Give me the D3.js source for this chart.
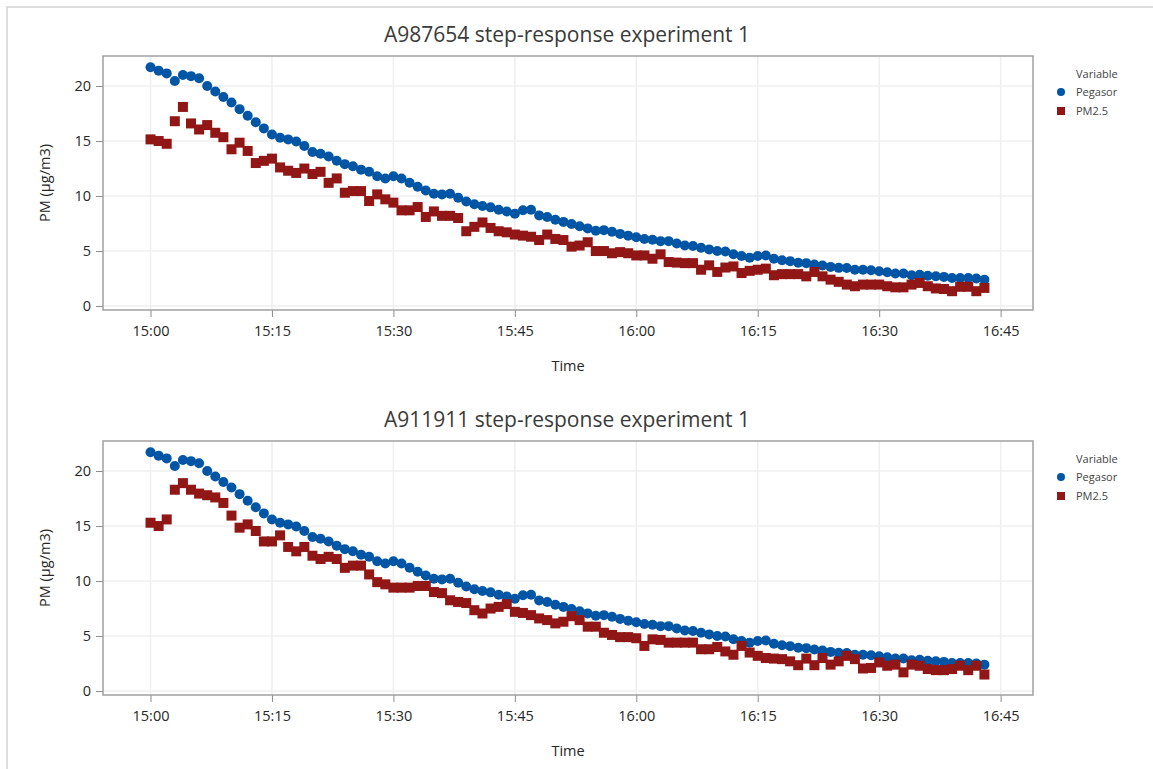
<!DOCTYPE html>
<html>
<head>
<meta charset="utf-8">
<script src="https://cdn.jsdelivr.net/npm/d3@7"></script>
<style>
  body { margin: 0; background: #fff; }
  svg { display: block; font-family: 'Segoe UI', 'Open Sans', sans-serif; }
</style>
</head>
<body>
<svg></svg>
<script>
const width = 1153;
const height = 769;

// data, one reading per minute from 15:00
const startTime = '15:00';
const timeTicks = ['15:00', '15:15', '15:30', '15:45', '16:00', '16:15', '16:30', '16:45'];
const yTicks = [0, 5, 10, 15, 20];
const seriesNames = ['Pegasor', 'PM2.5'];
const titles = ['A987654 step-response experiment 1', 'A911911 step-response experiment 1'];

const pegasor = [
  21.7, 21.4, 21.15, 20.45, 21.0, 20.9, 20.7, 20.0, 19.5, 19.0,
  18.5, 17.9, 17.3, 16.7, 16.15, 15.6, 15.3, 15.15, 14.95, 14.55,
  14.0, 13.85, 13.6, 13.2, 12.9, 12.7, 12.4, 12.2, 11.8, 11.6,
  11.8, 11.6, 11.2, 10.85, 10.5, 10.2, 10.15, 10.2, 9.85, 9.5,
  9.26, 9.1, 8.97, 8.76, 8.6, 8.4, 8.7, 8.75, 8.24, 8.1,
  7.85, 7.65, 7.45, 7.26, 7.06, 6.85, 6.9, 6.76, 6.56, 6.4,
  6.26, 6.1, 6.03, 5.9, 5.9, 5.68, 5.5, 5.45, 5.3, 5.15,
  5.0, 4.95, 4.7, 4.55, 4.4, 4.55, 4.6, 4.3, 4.17, 4.08,
  3.93, 3.9, 3.77, 3.68, 3.56, 3.47, 3.45, 3.3, 3.3, 3.25,
  3.16, 3.07, 2.95, 2.95, 2.8, 2.85, 2.76, 2.7, 2.65, 2.55,
  2.55, 2.55, 2.5, 2.4
];

const pm25A = [
  15.15, 15.0, 14.75, 16.8, 18.1, 16.6, 16.05, 16.45, 15.75, 15.35,
  14.25, 14.85, 14.1, 13.0, 13.2, 13.4, 12.6, 12.3, 12.1, 12.5,
  12.0, 12.2, 11.2, 11.6, 10.3, 10.45, 10.45, 9.55, 10.15, 9.7,
  9.4, 8.7, 8.7, 9.0, 8.1, 8.6, 8.2, 8.2, 8.0, 6.8,
  7.2, 7.6, 7.1, 6.8, 6.7, 6.5, 6.4, 6.3, 6.0, 6.5,
  6.1, 6.0, 5.4, 5.5, 5.8, 5.0, 5.0, 4.8, 4.9, 4.8,
  4.6, 4.6, 4.3, 4.7, 4.0, 3.95, 3.9, 3.9, 3.3, 3.7,
  3.1, 3.5, 3.6, 3.0, 3.2, 3.3, 3.4, 2.8, 2.9, 2.9,
  2.9, 2.7, 3.1, 2.7, 2.4, 2.2, 1.95, 1.8, 1.95, 1.95,
  1.95, 1.8, 1.7, 1.7, 1.95, 2.1, 1.8, 1.6, 1.55, 1.35,
  1.75, 1.75, 1.35, 1.65
];

const pm25B = [
  15.3, 15.0, 15.6, 18.3, 18.9, 18.3, 17.95, 17.8, 17.6, 17.1,
  15.95, 14.85, 15.15, 14.55, 13.6, 13.6, 14.15, 13.1, 12.7, 13.1,
  12.3, 12.0, 12.2, 12.0, 11.2, 11.4, 11.4, 10.6, 9.9, 9.7,
  9.4, 9.4, 9.4, 9.55, 9.55, 9.0, 8.9, 8.25, 8.1, 8.0,
  7.35, 7.05, 7.5, 7.65, 7.9, 7.2, 7.1, 6.9, 6.6, 6.45,
  6.15, 6.3, 6.8, 6.45, 5.85, 5.85, 5.3, 5.1, 4.9, 4.9,
  4.8, 4.1, 4.7, 4.65, 4.4, 4.4, 4.4, 4.4, 3.8, 3.8,
  4.0, 3.6, 3.3, 4.1, 3.5, 3.2, 3.0, 2.95, 2.9, 2.7,
  2.35, 2.95, 2.35, 3.0, 2.4, 2.7, 3.2, 2.9, 2.05, 2.1,
  2.6, 2.3, 2.4, 1.7, 2.4, 2.3, 2.0, 1.9, 1.9, 2.0,
  2.3, 1.9, 2.3, 1.5
];

const colors = ['#0055a4', '#911616'];

const parseTime = d3.timeParse('%H:%M');
const t0 = parseTime(startTime);
const times = d3.timeMinute.range(t0, d3.timeMinute.offset(t0, pegasor.length));

const panelOffset = 385;
const frame = { left: 103, right: 1033, top: 56, bottom: 310 };

const svg = d3.select('svg')
  .attr('width', width)
  .attr('height', height);

// window border (top and left only)
svg.append('path')
  .attr('d', `M7,${height} V7 H${width}`)
  .attr('fill', 'none')
  .attr('stroke', '#dcdcdc')
  .attr('stroke-width', 2);

const xScale = d3.scaleTime()
  .domain([new Date(+t0 - 5.87 * 60000), new Date(+t0 + 109 * 60000)])
  .range([frame.left, frame.right]);

const yScale = d3.scaleLinear()
  .domain([-0.36, 22.73])
  .range([frame.bottom, frame.top]);

const panels = [
  { title: titles[0], pm: pm25A },
  { title: titles[1], pm: pm25B }
];

panels.forEach((p, i) => {
  const g = svg.append('g')
    .attr('transform', `translate(0,${i * panelOffset})`);

  // gridlines
  g.append('g')
    .selectAll('line.vgrid')
    .data(timeTicks.map(parseTime))
    .enter().append('line')
    .attr('x1', d => xScale(d))
    .attr('x2', d => xScale(d))
    .attr('y1', frame.top)
    .attr('y2', frame.bottom)
    .attr('stroke', '#efefef')
    .attr('stroke-width', 1.5);

  g.append('g')
    .selectAll('line.hgrid')
    .data(yTicks)
    .enter().append('line')
    .attr('x1', frame.left)
    .attr('x2', frame.right)
    .attr('y1', d => yScale(d))
    .attr('y2', d => yScale(d))
    .attr('stroke', '#efefef')
    .attr('stroke-width', 1.5);

  // axes
  const xAxis = d3.axisBottom(xScale)
    .tickValues(timeTicks.map(parseTime))
    .tickFormat(d3.timeFormat('%H:%M'))
    .tickSize(7)
    .tickPadding(9);

  const yAxis = d3.axisLeft(yScale)
    .tickValues(yTicks)
    .tickSize(7)
    .tickPadding(5);

  const xg = g.append('g')
    .attr('transform', `translate(0,${frame.bottom})`)
    .call(xAxis);

  const yg = g.append('g')
    .attr('transform', `translate(${frame.left},0)`)
    .call(yAxis);

  [xg, yg].forEach(a => {
    a.select('.domain').remove();
    a.selectAll('.tick line').attr('stroke', '#8c8c8c');
    a.selectAll('.tick text')
      .attr('fill', '#262626')
      .style('font-size', '14.5px')
      .style('font-family', "'Segoe UI', 'Open Sans', sans-serif");
  });

  // frame
  g.append('rect')
    .attr('x', frame.left)
    .attr('y', frame.top)
    .attr('width', frame.right - frame.left)
    .attr('height', frame.bottom - frame.top)
    .attr('fill', 'none')
    .attr('stroke', '#a0a0a0')
    .attr('stroke-width', 1.5);

  // points
  g.append('g')
    .selectAll('circle')
    .data(pegasor)
    .enter().append('circle')
    .attr('cx', (d, j) => xScale(times[j]))
    .attr('cy', d => yScale(d))
    .attr('r', 5)
    .attr('fill', colors[0]);

  const sq = 10;
  g.append('g')
    .selectAll('rect')
    .data(p.pm)
    .enter().append('rect')
    .attr('x', (d, j) => xScale(times[j]) - sq / 2)
    .attr('y', d => yScale(d) - sq / 2)
    .attr('width', sq)
    .attr('height', sq)
    .attr('fill', colors[1]);

  // title and labels
  g.append('text')
    .attr('x', 567)
    .attr('y', 42)
    .attr('text-anchor', 'middle')
    .attr('fill', '#3a3a3a')
    .style('font-size', '21px')
    .text(p.title);

  g.append('text')
    .attr('transform', `translate(50,${(frame.top + frame.bottom) / 2}) rotate(-90)`)
    .attr('text-anchor', 'middle')
    .attr('fill', '#262626')
    .style('font-size', '14.5px')
    .text('PM (µg/m3)');

  g.append('text')
    .attr('x', (frame.left + frame.right) / 2)
    .attr('y', 371)
    .attr('text-anchor', 'middle')
    .attr('fill', '#262626')
    .style('font-size', '14.5px')
    .text('Time');

  // legend
  const lg = g.append('g').attr('transform', 'translate(1061,0)');
  lg.append('text')
    .attr('x', 15)
    .attr('y', 78)
    .attr('fill', '#444')
    .style('font-size', '11px')
    .text('Variable');

  lg.append('circle')
    .attr('cx', 0)
    .attr('cy', 92)
    .attr('r', 4)
    .attr('fill', colors[0]);

  lg.append('rect')
    .attr('x', -4)
    .attr('y', 107)
    .attr('width', 8)
    .attr('height', 8)
    .attr('fill', colors[1]);

  lg.selectAll('text.item')
    .data(seriesNames)
    .enter().append('text')
    .attr('class', 'item')
    .attr('x', 15)
    .attr('y', (d, j) => 96 + j * 19)
    .attr('fill', '#444')
    .style('font-size', '11px')
    .text(d => d);
});
</script>
</body>
</html>
